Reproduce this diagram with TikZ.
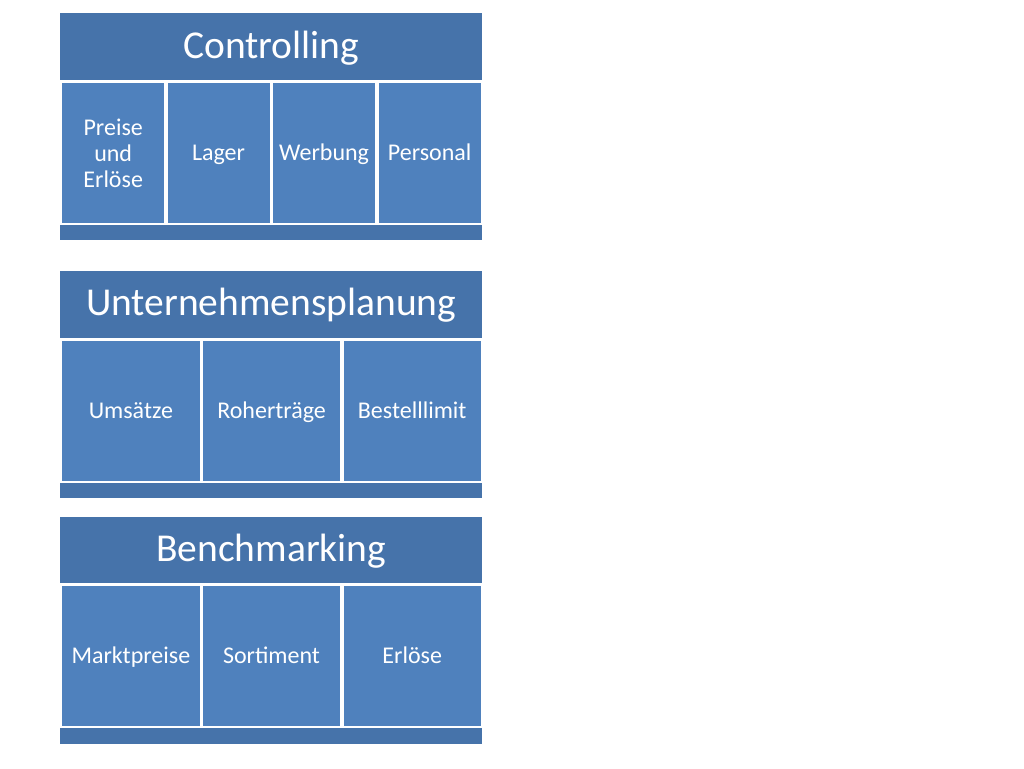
\documentclass[tikz,border=0pt]{standalone}
\usepackage{fontspec}
\setmainfont{Carlito}
\definecolor{hdr}{RGB}{70,115,170}
\definecolor{cell}{RGB}{79,129,189}
\begin{document}
\begin{tikzpicture}[x=1pt,y=-1pt,
  hdrbox/.style={fill=hdr,draw=none,inner sep=0pt,text=white,text height=29pt,text depth=6pt,font=\fontsize{39.5}{42}\selectfont},
  cellbox/.style={fill=cell,draw=none,inner sep=0pt,text=white,align=center,text height=18pt,text depth=3pt,font=\fontsize{24}{26}\selectfont},
  barbox/.style={fill=hdr,draw=none,inner sep=0pt}]
\useasboundingbox[fill=white] (0,0) rectangle (1024,768);
% Block 1
\node[hdrbox,minimum width=422pt,minimum height=67pt,anchor=north west] (h1) at (60,13) {Controlling};
\node[cellbox,text height=,text depth=,minimum width=102pt,minimum height=140pt,anchor=north west] (c11) at (62,82.7) {Preise\\und\\Erlöse};
\node[cellbox,minimum width=102pt,minimum height=140pt,anchor=north west] (c12) at (167.3,82.7) {Lager};
\node[cellbox,minimum width=102.3pt,minimum height=140pt,anchor=north west] (c13) at (272.7,82.7) {Werbung};
\node[cellbox,minimum width=102.3pt,minimum height=140pt,anchor=north west] (c14) at (378.3,82.7) {Personal};
\node[barbox,minimum width=422pt,minimum height=15.3pt,anchor=north west] (b1) at (60,224.7) {};
% Block 2
\node[hdrbox,minimum width=422pt,minimum height=66.5pt,anchor=north west] (h2) at (60,271) {Unternehmensplanung};
\node[cellbox,minimum width=137.3pt,minimum height=140.5pt,anchor=north west] (c21) at (62,340.5) {Umsätze};
\node[cellbox,minimum width=137.3pt,minimum height=140.5pt,anchor=north west] (c22) at (202.7,340.5) {Roherträge};
\node[cellbox,minimum width=137.4pt,minimum height=140.5pt,anchor=north west] (c23) at (343.3,340.5) {Bestelllimit};
\node[barbox,minimum width=422pt,minimum height=15.3pt,anchor=north west] (b2) at (60,482.7) {};
% Block 3
\node[hdrbox,minimum width=422pt,minimum height=66.4pt,anchor=north west] (h3) at (60,516.3) {Benchmarking};
\node[cellbox,minimum width=137.3pt,minimum height=140.3pt,anchor=north west] (c31) at (62,585.8) {Marktpreise};
\node[cellbox,minimum width=137.3pt,minimum height=140.3pt,anchor=north west] (c32) at (202.7,585.8) {Sortiment};
\node[cellbox,minimum width=137.4pt,minimum height=140.3pt,anchor=north west] (c33) at (343.3,585.8) {Erlöse};
\node[barbox,minimum width=422pt,minimum height=15.6pt,anchor=north west] (b3) at (60,727.7) {};
\end{tikzpicture}
\end{document}
